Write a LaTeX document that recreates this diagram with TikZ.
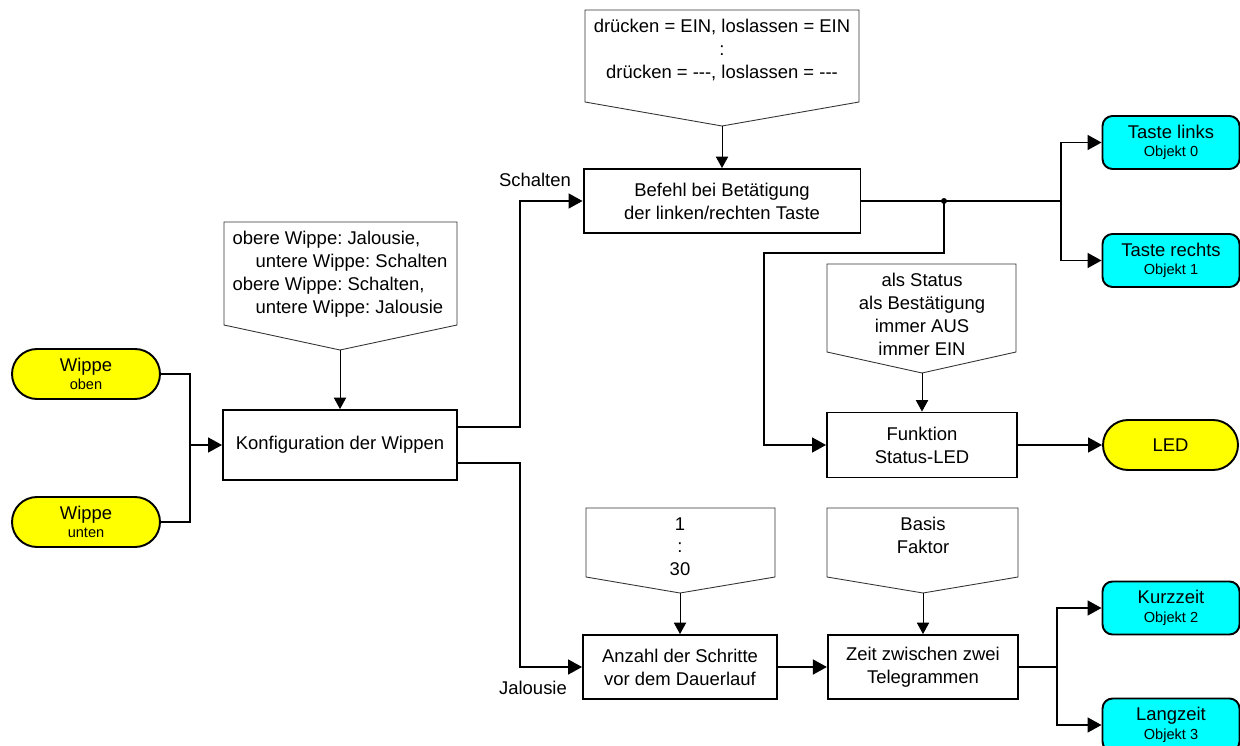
\documentclass[tikz,border=0pt]{standalone}
\usepackage{fontspec}
\setmainfont{Liberation Sans}[Ligatures=TeXOff]
\usetikzlibrary{arrows.meta,positioning}
\definecolor{wippegelb}{RGB}{255,255,0}
\definecolor{objcyan}{RGB}{0,255,255}
\newcommand{\fnorm}{\fontsize{10.5}{13}\selectfont}
\newcommand{\fsmall}{\fontsize{8.3}{9.5}\selectfont}
\frenchspacing

\begin{document}
\begin{tikzpicture}[x=0.02cm, y=-0.02cm,
    fbox/.style={rectangle, draw, line width=1.1pt, font=\fnorm, align=center, inner sep=2pt},
    inbox/.style={rectangle, draw, line width=1.1pt, fill=wippegelb, rounded corners=0.5cm,
        minimum width=2.96cm, minimum height=1cm, font=\fnorm, align=center, inner sep=0pt},
    outbox/.style={rectangle, draw, line width=1.1pt, fill=objcyan, rounded corners=0.2cm,
        minimum width=2.74cm, minimum height=1.06cm, font=\fnorm, align=center, inner sep=0pt},
    notetxt/.style={anchor=north, inner sep=0pt, font=\fnorm, align=center},
    noteline/.style={draw=black!80, line width=0.5pt},
    line/.style={line width=1.1pt},
    arr/.style={-{Triangle[length=8pt, width=8.5pt]}, line width=1.1pt},
    thinarr/.style={-{Triangle[length=6.5pt, width=7pt]}, line width=0.5pt},
    lbl/.style={font=\fnorm, inner sep=0pt}
]
    \useasboundingbox (0,0) rectangle (1240,746);

    % Eingaenge und Konfiguration
    \node[inbox] (wo) at (86,374) {Wippe\\[-2.5pt]{\fsmall oben}};
    \node[inbox] (wu) at (86,522) {Wippe\\[-2.5pt]{\fsmall unten}};
    \node[fbox, minimum width=4.68cm, minimum height=1.4cm] (konf) at (340,445) {Konfiguration der Wippen};

    % Schalten
    \node[fbox, minimum width=5.54cm, minimum height=1.28cm] (befehl) at (722,201) {Befehl bei Betätigung\\der linken/rechten Taste};
    \node[outbox] (tl) at (1171,142.5) {Taste links\\[-2.5pt]{\fsmall Objekt 0}};
    \node[outbox] (tr) at (1171,260.5) {Taste rechts\\[-2.5pt]{\fsmall Objekt 1}};
    \node[fbox, minimum width=3.8cm, minimum height=1.3cm] (funk) at (922,445) {Funktion\\Status-LED};
    \node[inbox, minimum width=2.7cm] (led) at (1170.5,445) {LED};

    % Jalousie
    \node[fbox, minimum width=3.88cm, minimum height=1.28cm] (anz) at (680,667) {Anzahl der Schritte\\vor dem Dauerlauf};
    \node[fbox, minimum width=3.8cm, minimum height=1.28cm, right=0.98cm of anz] (zeit) {Zeit zwischen zwei\\Telegrammen};
    \node[outbox] (kz) at (1171,608) {Kurzzeit\\[-2.5pt]{\fsmall Objekt 2}};
    \node[outbox] (lz) at (1171,725) {Langzeit\\[-2.5pt]{\fsmall Objekt 3}};

    % Parameter
    \draw[noteline] (224,222) -- (457,222) -- (457,325) -- (340,350) -- (224,325) -- cycle;
    \node[notetxt, align=left] (nwip) at (340,231) {obere Wippe: Jalousie,\\\hspace*{13pt}untere Wippe: Schalten\\obere Wippe: Schalten,\\\hspace*{13pt}untere Wippe: Jalousie};
    \coordinate (nwiptip) at (340,350);

    \draw[noteline] (585,10) -- (859,10) -- (859,102) -- (722,126) -- (585,102) -- cycle;
    \node[notetxt] (ntaste) at (722,19) {drücken = EIN, loslassen = EIN\\:\\drücken = ---, loslassen = ---};
    \coordinate (ntastetip) at (722,126);

    \draw[noteline] (827,264) -- (1016,264) -- (1016,352) -- (922,373) -- (827,352) -- cycle;
    \node[notetxt] (nled) at (922,273) {als Status\\als Bestätigung\\immer AUS\\immer EIN};
    \coordinate (nledtip) at (922,373);

    \draw[noteline] (586,508) -- (775,508) -- (775,577) -- (680,593) -- (586,577) -- cycle;
    \node[notetxt] (nschr) at (680,517) {1\\:\\30};
    \coordinate (nschrtip) at (680,593);

    \draw[noteline] (827,508) -- (1018,508) -- (1018,577) -- (923,593) -- (827,577) -- cycle;
    \node[notetxt] (nzeit) at (923,517) {Basis\\Faktor};
    \coordinate (nzeittip) at (923,593);

    \draw[thinarr] (nwiptip) -- (nwiptip |- konf.north);
    \draw[thinarr] (ntastetip) -- (ntastetip |- befehl.north);
    \draw[thinarr] (nledtip) -- (nledtip |- funk.north);
    \draw[thinarr] (nschrtip) -- (nschrtip |- anz.north);
    \draw[thinarr] (nzeittip) -- (nzeittip |- zeit.north);

    % Verbindungen
    \coordinate (jin) at (190,445);
    \draw[line] (wo.east) -| (jin);
    \draw[line] (wu.east) -| (jin);
    \draw[arr] (jin) -- (konf.west);

    \draw[arr] ([yshift=0.36cm]konf.east) -- ++(62,0) |- (befehl.west);
    \draw[arr] ([yshift=-0.36cm]konf.east) -- ++(62,0) |- (anz.west);
    \node[lbl] (lschalt) at (535,180) {Schalten};
    \node[lbl] (ljal) at (533,688) {Jalousie};

    \coordinate (jtaste) at (1061,201);
    \draw[line] (befehl.east) -- (jtaste);
    \draw[arr] (jtaste) |- (tl.west);
    \draw[arr] (jtaste) |- (tr.west);

    \coordinate (abzw) at (944,201);
    \fill (abzw) circle[radius=0.06cm];
    \coordinate (knick) at (764,253);
    \draw[arr] (abzw) |- (knick) |- (funk.west);
    \draw[arr] (funk.east) -- (led.west);

    \draw[arr] (anz.east) -- (zeit.west);
    \coordinate (jzeit) at (1057,667);
    \draw[line] (zeit.east) -- (jzeit);
    \draw[arr] (jzeit) |- (kz.west);
    \draw[arr] (jzeit) |- (lz.west);
\end{tikzpicture}
\end{document}
